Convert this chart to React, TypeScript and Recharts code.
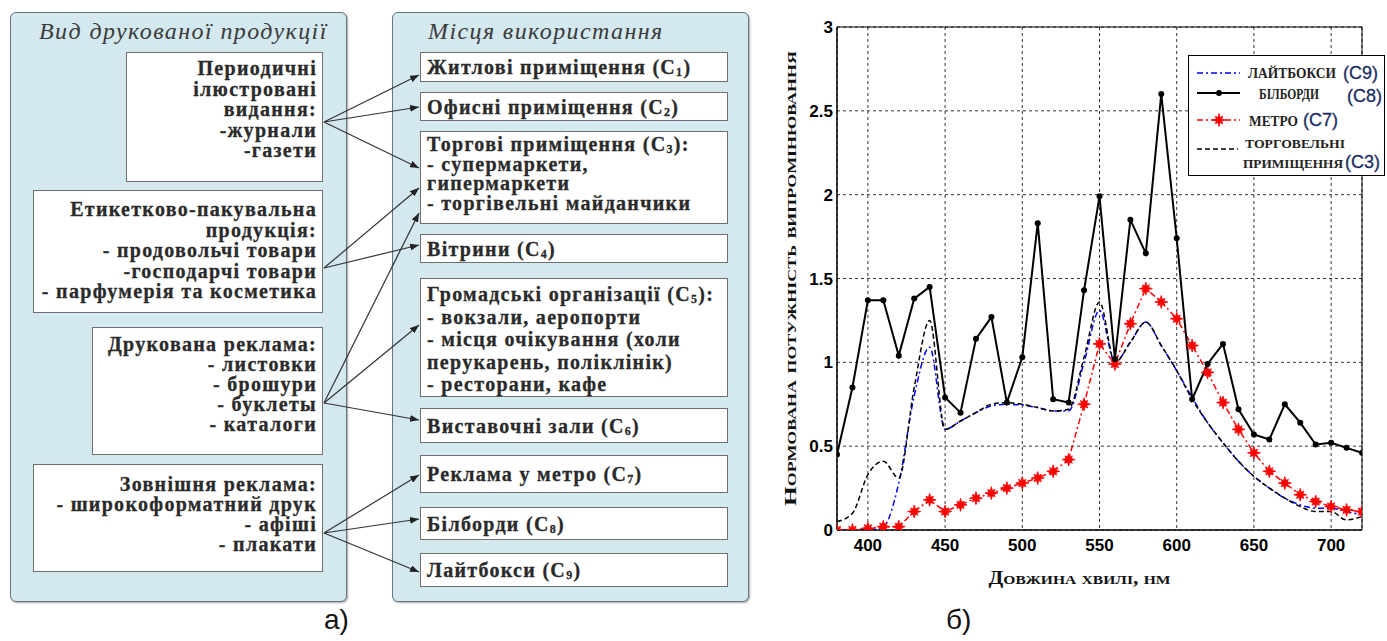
import React from "react";
import {
  LineChart,
  Line,
  XAxis,
  YAxis,
  CartesianGrid,
  ReferenceArea,
  Legend,
} from "recharts";

// ---- chart data ----
const wavelengths = [
  380, 390, 400, 410, 420, 430, 440, 450, 460, 470, 480, 490, 500, 510, 520, 530, 540, 550,
  560, 570, 580, 590, 600, 610, 620, 630, 640, 650, 660, 670, 680, 690, 700, 710, 720,
];
const lightboxC9 = [
  0, 0, 0, 0.02, 0.28, 0.8, 1.09, 0.6, 0.65, 0.7, 0.74, 0.75, 0.745, 0.73, 0.71, 0.71, 1.0, 1.31,
  1.0, 1.12, 1.24, 1.1, 0.95, 0.79, 0.64, 0.52, 0.41, 0.32, 0.25, 0.19, 0.15, 0.13, 0.13, 0.11, 0.09,
];
const billboardC8 = [
  0.45, 0.85, 1.37, 1.37, 1.04, 1.38, 1.45, 0.79, 0.7, 1.14, 1.27, 0.76, 1.03, 1.83, 0.78, 0.76,
  1.43, 1.99, 1.02, 1.85, 1.65, 2.6, 1.74, 0.78, 0.99, 1.11, 0.72, 0.57, 0.54, 0.75, 0.64, 0.51,
  0.52, 0.49, 0.46,
];
const metroC7 = [
  0, 0, 0.01, 0.02, 0.02, 0.11, 0.18, 0.11, 0.15, 0.19, 0.22, 0.25, 0.28, 0.31, 0.35, 0.42, 0.75,
  1.11, 0.99, 1.23, 1.44, 1.36, 1.26, 1.1, 0.94, 0.76, 0.6, 0.46, 0.35, 0.28, 0.21, 0.17, 0.14,
  0.12, 0.11,
];
const retailC3 = [
  0.05, 0.1, 0.33, 0.41, 0.31, 0.85, 1.25, 0.6, 0.65, 0.7, 0.75, 0.76, 0.75, 0.73, 0.71, 0.72,
  1.03, 1.36, 1.0, 1.12, 1.24, 1.1, 0.95, 0.78, 0.64, 0.52, 0.41, 0.32, 0.25, 0.19, 0.14, 0.11,
  0.11, 0.06, 0.08,
];
const xTicks = [400, 450, 500, 550, 600, 650, 700];
const yTicks = [0, 0.5, 1, 1.5, 2, 2.5, 3];

// ---- diagram text ----
const productTitle = "Вид друкованої продукції";
const placeTitle = "Місця використання";
const productLines = [
  ["Периодичні", "ілюстровані", "видання:", "-журнали", "-газети"],
  ["Етикетково-пакувальна", "продукція:", "- продовольчі товари", "-господарчі товари", "- парфумерія та косметика"],
  ["Друкована реклама:", "- листовки", "- брошури", "- буклеты", "- каталоги"],
  ["Зовнішня реклама:", "- широкоформатний друк", "- афіші", "- плакати"],
];
const placeLines = [
  ["Житлові приміщення (С_1)"],
  ["Офисні приміщення (С_2)"],
  ["Торгові приміщення (С_3):", "- супермаркети,", "гипермаркети", "- торгівельні майданчики"],
  ["Вітрини (С_4)"],
  ["Громадські організації (С_5):", "- вокзали, аеропорти", "- місця очікування (холи", "перукарень, поліклінік)", "- ресторани, кафе"],
  ["Виставочні зали (С_6)"],
  ["Реклама у метро (С_7)"],
  ["Білборди (С_8)"],
  ["Лайтбокси (С_9)"],
];

// layout of the diagram
const productLayout = [
  { x: 126, y: 52, w: 197, h: 130, lh: 20.5, pad: 5 },
  { x: 33, y: 190, w: 290, h: 123, lh: 20.5, pad: 8 },
  { x: 92, y: 327, w: 231, h: 128, lh: 20, pad: 6 },
  { x: 33, y: 464, w: 290, h: 108, lh: 20, pad: 9 },
];
const placeLayout = [
  { y: 52, h: 30 },
  { y: 92, h: 29 },
  { y: 131, h: 93, lh: 19.5, pad: 3 },
  { y: 234, h: 29 },
  { y: 278, h: 119, lh: 22.5, pad: 4 },
  { y: 408, h: 35 },
  { y: 455, h: 38 },
  { y: 507, h: 33 },
  { y: 553, h: 34 },
];
const arrowSources = [122, 268, 403, 533];
const arrowLinks: [number, number][] = [
  [0, 75], [0, 107], [0, 168],
  [1, 188], [1, 245],
  [2, 213], [2, 325], [2, 420],
  [3, 475], [3, 519], [3, 572],
];

const SERIF = '"Liberation Serif", "Times New Roman", serif';
const SANS = '"Liberation Sans", Arial, sans-serif';

function withSub(s: string) {
  const parts = s.split("_");
  if (parts.length === 1) return s;
  return (
    <>
      {parts[0]}
      <sub style={{ fontSize: "0.6em", verticalAlign: "-0.2em", lineHeight: 0 }}>{parts[1][0]}</sub>
      {parts[1].slice(1)}
    </>
  );
}

function Panel({ x, y, w, h, title, titleX }: any) {
  return (
    <div
      style={{
        position: "absolute",
        left: x,
        top: y,
        width: w,
        height: h,
        boxSizing: "border-box",
        background: "#d4e8ef",
        border: "1.5px solid #66767c",
        borderRadius: 6,
        boxShadow: "1px 1px 2px rgba(0,0,0,0.35)",
      }}
    >
      <div
        style={{
          position: "absolute",
          left: titleX,
          top: 5,
          fontStyle: "italic",
          fontSize: 24,
          letterSpacing: 1.4,
          color: "#3a3a3a",
          whiteSpace: "nowrap",
        }}
      >
        {title}
      </div>
    </div>
  );
}

function TextBox({ x, y, w, h, lines, right, lh, pad }: any) {
  return (
    <div
      style={{
        position: "absolute",
        left: x,
        top: y,
        width: w,
        height: h,
        boxSizing: "border-box",
        background: "#fff",
        border: "1.5px solid #6e6e6e",
        display: "flex",
        flexDirection: "column",
        justifyContent: pad === undefined ? "center" : "flex-start",
        alignItems: right ? "flex-end" : "flex-start",
        padding: `${pad ?? 0}px 5px 0 6px`,
        fontWeight: "bold",
        fontSize: 20,
        lineHeight: `${lh ?? 20}px`,
        letterSpacing: 1.3,
        color: "#2a2a2a",
        WebkitTextStroke: "0.3px #2a2a2a",
        whiteSpace: "nowrap",
      }}
    >
      {lines.map((l: string, i: number) => (
        <div key={i}>{withSub(l)}</div>
      ))}
    </div>
  );
}

function StarDot(props: any) {
  const { cx, cy } = props;
  if (cx == null || cy == null) return null;
  const pts: string[] = [];
  for (let k = 0; k < 16; k++) {
    const outer = k % 4 === 0 ? 6.5 : 5.2;
    const r = k % 2 === 0 ? outer : 2.8;
    const a = (k * Math.PI) / 8 - Math.PI / 2;
    pts.push(`${cx + r * Math.cos(a)},${cy + r * Math.sin(a)}`);
  }
  return <polygon key={`s${cx}`} points={pts.join(" ")} fill="#ff0000" stroke="#ff0000" strokeWidth={0.8} />;
}

function YLabel({ viewBox }: any) {
  const cx = viewBox.x - 17;
  const cy = viewBox.y + viewBox.height / 2;
  return (
    <text
      x={cx}
      y={cy}
      transform={`rotate(-90, ${cx}, ${cy})`}
      textAnchor="middle"
      dominantBaseline="central"
      textLength={455}
      lengthAdjust="spacingAndGlyphs"
      fontFamily={SERIF}
      fontWeight="bold"
      fontSize={17}
      fill="#111"
      style={{ fontVariant: "small-caps" }}
    >
      Нормована потужність випромінювання
    </text>
  );
}

function XLabel({ viewBox }: any) {
  const cx = viewBox.x + viewBox.width / 2 - 20;
  const cy = viewBox.y + 48;
  return (
    <text
      x={cx}
      y={cy}
      textAnchor="middle"
      dominantBaseline="central"
      textLength={182}
      lengthAdjust="spacingAndGlyphs"
      fontFamily={SERIF}
      fontWeight="bold"
      fontSize={18}
      fill="#111"
      style={{ fontVariant: "small-caps" }}
    >
      Довжина хвилі, нм
    </text>
  );
}

function ChartLegend() {
  const word = { fontFamily: SERIF, fontWeight: "bold" as const, fontSize: 14, fill: "#222" };
  const code = { fontFamily: SANS, fontSize: 18, fill: "#1b2d63", stroke: "#1b2d63", strokeWidth: 0.3 };
  return (
    <svg width={197} height={121} style={{ display: "block" }}>
      <rect x={0.5} y={0.5} width={196} height={120} fill="#fff" stroke="#000" strokeWidth={1} />
      <line x1={9} x2={52} y1={18} y2={18} stroke="#0000ff" strokeWidth={1.6} strokeDasharray="6 3 2 3" />
      <text x={60} y={18} dominantBaseline="central" textLength={88} lengthAdjust="spacingAndGlyphs" {...word}>ЛАЙТБОКСИ</text>
      <text x={155} y={18} dominantBaseline="central" {...code}>(C9)</text>

      <line x1={9} x2={52} y1={38} y2={38} stroke="#000" strokeWidth={2} />
      <circle cx={31} cy={38} r={3} fill="#000" />
      <text x={71} y={39} dominantBaseline="central" textLength={60} lengthAdjust="spacingAndGlyphs" {...word}>БІЛБОРДИ</text>
      <text x={159} y={41} dominantBaseline="central" {...code}>(C8)</text>

      <line x1={9} x2={52} y1={65} y2={65} stroke="#ff0000" strokeWidth={1.6} strokeDasharray="6 3 2 3" />
      <StarDot cx={31} cy={65} />
      <text x={61} y={66} dominantBaseline="central" textLength={49} lengthAdjust="spacingAndGlyphs" {...word}>МЕТРО</text>
      <text x={115} y={65} dominantBaseline="central" {...code}>(C7)</text>

      <line x1={9} x2={50} y1={94} y2={94} stroke="#000" strokeWidth={1.6} strokeDasharray="5 3" />
      <text x={57} y={88} dominantBaseline="central" textLength={100} lengthAdjust="spacingAndGlyphs" {...word} fontSize={13}>ТОРГОВЕЛЬНІ</text>
      <text x={55} y={108} dominantBaseline="central" textLength={100} lengthAdjust="spacingAndGlyphs" {...word} fontSize={13}>ПРИМІЩЕННЯ</text>
      <text x={157} y={107} dominantBaseline="central" {...code}>(C3)</text>
    </svg>
  );
}

export default function App() {
  const rows = wavelengths.map((w, i) => ({
    w,
    c9: lightboxC9[i],
    c8: billboardC8[i],
    c7: metroC7[i],
    c3: retailC3[i],
  }));
  const tickStyle = { fill: "#000", fontSize: 17, fontWeight: "bold", fontFamily: SANS };

  return (
    <div
      style={{
        position: "absolute",
        left: 0,
        top: 0,
        width: 1387,
        height: 641,
        background: "#fff",
        fontFamily: SERIF,
        overflow: "hidden",
      }}
    >
      {/* (a) diagram */}
      <Panel x={10} y={12} w={337} h={590} title={productTitle} titleX={28} />
      <Panel x={392} y={12} w={357} h={590} title={placeTitle} titleX={35} />
      {productLines.map((lines, i) => (
        <TextBox key={i} {...productLayout[i]} lines={lines} right />
      ))}
      {placeLines.map((lines, i) => (
        <TextBox key={i} x={420} w={308} {...placeLayout[i]} lines={lines} />
      ))}
      <svg width={1387} height={641} style={{ position: "absolute", left: 0, top: 0 }}>
        <defs>
          <marker id="ah" markerWidth="9" markerHeight="7" refX="9" refY="3.5" orient="auto" markerUnits="userSpaceOnUse">
            <path d="M0,0 L9,3.5 L0,7 z" fill="#222" />
          </marker>
        </defs>
        {arrowLinks.map(([s, ty], i) => (
          <line key={i} x1={324} y1={arrowSources[s]} x2={419} y2={ty} stroke="#333" strokeWidth={1.2} markerEnd="url(#ah)" />
        ))}
      </svg>
      <div style={{ position: "absolute", left: 324, top: 604, fontFamily: SANS, fontSize: 28, color: "#111" }}>а)</div>
      <div style={{ position: "absolute", left: 946, top: 604, fontFamily: SANS, fontSize: 28, color: "#111" }}>б)</div>

      {/* (b) chart */}
      <div style={{ position: "absolute", left: 780, top: 0 }}>
        <LineChart width={607} height={600} data={rows} margin={{ top: 27, right: 25, bottom: 40, left: 27 }}>
          <CartesianGrid stroke="#000" strokeWidth={0.8} strokeDasharray="3 3" />
          <XAxis
            dataKey="w"
            type="number"
            domain={[380, 720]}
            ticks={xTicks}
            allowDataOverflow
            height={30}
            tickLine={false}
            tickSize={0}
            tickMargin={9}
            axisLine={{ stroke: "#000" }}
            tick={tickStyle}
            label={<XLabel />}
          />
          <YAxis
            type="number"
            domain={[0, 3]}
            ticks={yTicks}
            allowDataOverflow
            width={30}
            tickLine={false}
            tickSize={0}
            tickMargin={4}
            axisLine={{ stroke: "#000" }}
            tick={tickStyle}
            label={<YLabel />}
          />
          <ReferenceArea x1={380} x2={720} y1={0} y2={3} fill="none" stroke="#000" strokeWidth={1} />
          <Line type="monotone" dataKey="c9" stroke="#0000ff" strokeWidth={1.5} strokeDasharray="6 3 2 3" dot={false} isAnimationActive={false} />
          <Line type="monotone" dataKey="c3" stroke="#000" strokeWidth={1.5} strokeDasharray="5 3" dot={false} isAnimationActive={false} />
          <Line type="linear" dataKey="c7" stroke="#ff0000" strokeWidth={1.5} strokeDasharray="6 3 2 3" dot={<StarDot />} isAnimationActive={false} />
          <Line type="linear" dataKey="c8" stroke="#000" strokeWidth={2} dot={{ r: 3, fill: "#000", stroke: "#000", strokeWidth: 0 }} isAnimationActive={false} />
          <Legend
            layout="horizontal"
            verticalAlign="middle"
            align="center"
            content={<ChartLegend />}
            wrapperStyle={{ left: 408, top: 55, width: 197, height: 121 }}
          />
        </LineChart>
      </div>
    </div>
  );
}
